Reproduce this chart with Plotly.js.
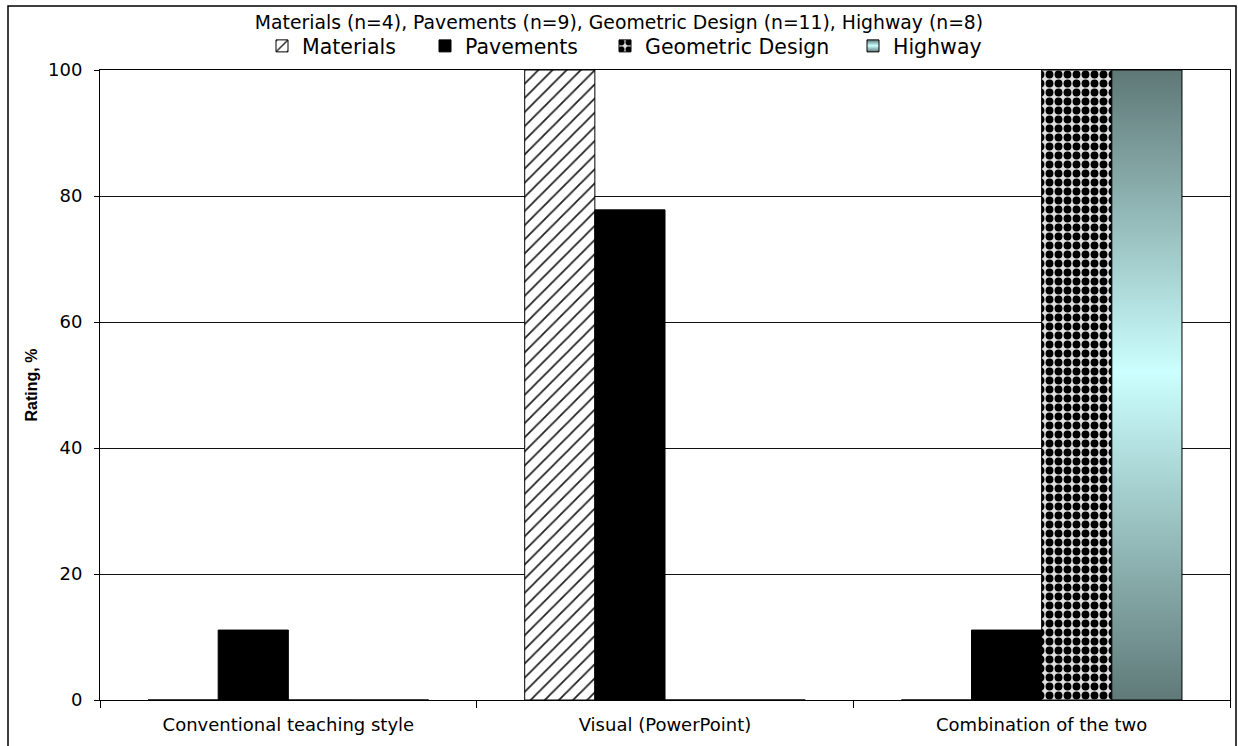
<!DOCTYPE html>
<html>
<head>
<meta charset="utf-8">
<script src="https://cdn.plot.ly/plotly-3.0.1.min.js"></script>
<style>
  html, body { margin: 0; padding: 0; background: #fff; }
  #chart { width: 1238px; height: 746px; }
</style>
</head>
<body>
<div id="chart"></div>
<script>
const categories = ['Conventional teaching style', 'Visual (PowerPoint)', 'Combination of the two'];
const materials = [0, 100, 0];
const pavements = [11.1, 77.8, 11.1];
const geometricDesign = [0, 0, 100];
const highway = [0, 0, 100];
const yTicks = [0, 20, 40, 60, 80, 100];

const outline = { color: '#000', width: 1 };
const traces = [
  { type: 'bar', name: 'Materials', x: categories, y: materials, legend: 'legend',
    marker: { color: '#fff', line: outline,
      pattern: { shape: '/', fgcolor: '#222', bgcolor: '#fff', size: 10, solidity: 0.18 } } },
  { type: 'bar', name: 'Pavements', x: categories, y: pavements, legend: 'legend2',
    marker: { color: '#000', line: outline } },
  { type: 'bar', name: 'Geometric Design', x: categories, y: geometricDesign, legend: 'legend3',
    marker: { color: '#fff', line: outline,
      pattern: { shape: '.', fgcolor: '#000', bgcolor: '#e0e0e0', size: 9, solidity: 0.6 } } },
  { type: 'bar', name: 'Highway', x: categories, y: highway, legend: 'legend4',
    marker: { color: '#a8dcdc', line: outline } }
];

const font = 'DejaVu Sans, Liberation Sans, Arial, sans-serif';
function legendAt(px) {
  return { orientation: 'h', x: (px - 100) / 1130, xanchor: 'left', y: 1.038, yanchor: 'middle',
    font: { family: font, size: 20.5, color: '#000' }, bgcolor: 'rgba(0,0,0,0)', itemwidth: 30 };
}
const layout = {
  width: 1238, height: 746,
  margin: { l: 100, r: 8, t: 70, b: 46 },
  paper_bgcolor: '#fff', plot_bgcolor: '#fff',
  font: { family: font, color: '#000', size: 18 },
  barmode: 'group', bargap: 0.255, bargroupgap: 0,
  title: { text: 'Materials (n=4), Pavements (n=9), Geometric Design (n=11), Highway (n=8)',
    font: { family: font, size: 18.8, color: '#000' },
    x: 0.5, xref: 'container', xanchor: 'center', y: 1 - 22 / 746, yref: 'container', yanchor: 'middle' },
  showlegend: true,
  legend: legendAt(262),
  legend2: legendAt(425),
  legend3: legendAt(605),
  legend4: legendAt(853),
  xaxis: { type: 'category', tickson: 'boundaries', ticks: 'outside', ticklen: 7, tickcolor: '#000',
    showline: true, linecolor: '#000', linewidth: 1, mirror: true, showgrid: false,
    ticklabelstandoff: 8,
    tickfont: { family: font, size: 18, color: '#000' }, fixedrange: true },
  yaxis: { range: [0, 100], tickvals: yTicks, ticktext: yTicks.map(String), ticks: 'outside', ticklen: 5, tickcolor: '#000',
    showline: true, linecolor: '#000', linewidth: 1, mirror: true,
    showgrid: true, gridcolor: '#111', gridwidth: 1, zeroline: false,
    ticklabelstandoff: 8,
    tickfont: { family: font, size: 18, color: '#000' },
    title: { text: '<b>Rating, %</b>', font: { family: 'Liberation Sans, Arial, sans-serif', size: 16, color: '#000' }, standoff: 6 },
    fixedrange: true },
  shapes: [
    { type: 'rect', xref: 'paper', yref: 'paper',
      x0: (8 - 100) / 1130, x1: (1236 - 100) / 1130,
      y0: (700 - 760) / 630, y1: (700 - 6) / 630,
      line: { color: '#000', width: 1.5 }, fillcolor: 'rgba(0,0,0,0)', layer: 'above' }
  ]
};

Plotly.newPlot('chart', traces, layout, { staticPlot: true, displayModeBar: false }).then(function (gd) {
  const svgNS = 'http://www.w3.org/2000/svg';
  const svg = gd.querySelector('svg.main-svg');
  let defs = svg.querySelector('defs');
  if (!defs) { defs = document.createElementNS(svgNS, 'defs'); svg.insertBefore(defs, svg.firstChild); }
  const grad = document.createElementNS(svgNS, 'linearGradient');
  grad.setAttribute('id', 'hwgrad');
  grad.setAttribute('x1', '0'); grad.setAttribute('y1', '0');
  grad.setAttribute('x2', '0'); grad.setAttribute('y2', '1');
  [['0', '#5e7876'], ['0.48', '#ccffff'], ['1', '#5f7a78']].forEach(function (s) {
    const st = document.createElementNS(svgNS, 'stop');
    st.setAttribute('offset', s[0]); st.setAttribute('stop-color', s[1]);
    grad.appendChild(st);
  });
  defs.appendChild(grad);
  const barTraces = gd.querySelectorAll('.barlayer .trace');
  if (barTraces[3]) barTraces[3].querySelectorAll('path').forEach(function (p) { p.style.fill = 'url(#hwgrad)'; });
  const hwLegend = gd.querySelector('.legend4 .legendpoints path') ||
    (gd.querySelectorAll('.legendpoints')[3] && gd.querySelectorAll('.legendpoints')[3].querySelector('path'));
  if (hwLegend) hwLegend.style.fill = 'url(#hwgrad)';
});
</script>
</body>
</html>
